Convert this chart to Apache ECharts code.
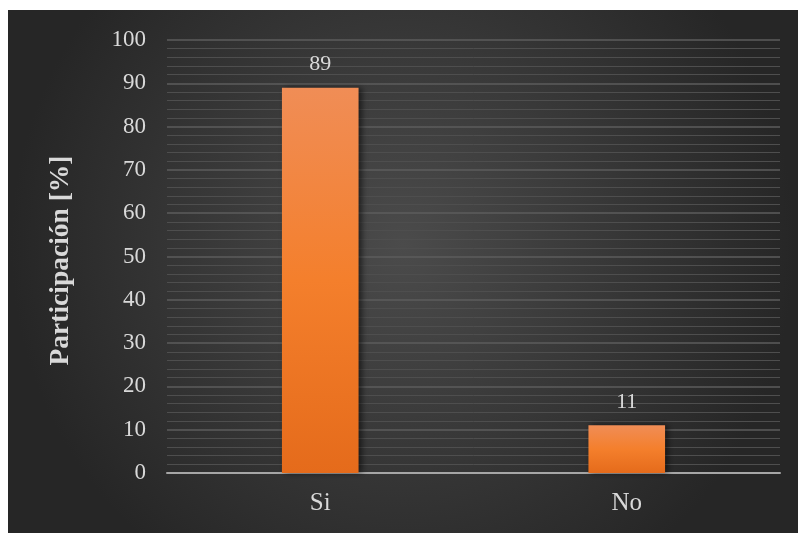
<!DOCTYPE html>
<html>
<head>
<meta charset="utf-8">
<script src="https://cdn.jsdelivr.net/npm/echarts@6/dist/echarts.min.js"></script>
<style>html,body{margin:0;padding:0;background:#fff;}#c{width:798px;height:533px;}</style>
</head>
<body>
<div id="c"></div>
<script>
const categories = ['Si', 'No'];
const values = [89, 11];
const yTicks = [0, 10, 20, 30, 40, 50, 60, 70, 80, 90, 100];

const chart = echarts.init(document.getElementById('c'), null, {renderer: 'canvas'});
const font = '"Liberation Serif", "Times New Roman", serif';
const txt = '#d9d9d9';
chart.setOption({
  backgroundColor: '#ffffff',
  animation: false,
  graphic: [{
    type: 'rect', z: -10, silent: true,
    shape: {x: 8, y: 10, width: 790, height: 523},
    style: {
      fill: new echarts.graphic.RadialGradient(0.5, 0.45, 0.75, [
        {offset: 0, color: '#4b4b4b'},
        {offset: 1, color: '#262626'}
      ])
    }
  }],
  grid: {left: 167, right: 18, top: 40, bottom: 60, containLabel: false},
  xAxis: {
    type: 'category',
    data: categories,
    axisLine: {show: true, lineStyle: {color: '#a6a6a6', width: 2}},
    axisTick: {show: false},
    axisLabel: {color: txt, fontFamily: font, fontSize: 25, margin: 18}
  },
  yAxis: {
    type: 'value',
    min: yTicks[0], max: yTicks[yTicks.length - 1], interval: 10,
    name: 'Participación [%]',
    nameLocation: 'middle',
    nameGap: 92,
    nameTextStyle: {color: txt, fontFamily: font, fontSize: 27.5, fontWeight: 'bold', padding: [0, 8, 0, 0]},
    axisLine: {show: false},
    axisTick: {show: false},
    axisLabel: {color: txt, fontFamily: font, fontSize: 23, margin: 21},
    splitLine: {show: true, lineStyle: {color: '#5c5c5c', width: 1.5}},
    minorTick: {show: false, splitNumber: 5},
    minorSplitLine: {show: true, lineStyle: {color: '#4e4e4e', width: 1}}
  },
  series: [{
    type: 'bar',
    data: values,
    barWidth: '25%',
    itemStyle: {
      color: new echarts.graphic.LinearGradient(0, 0, 0, 1, [
        {offset: 0, color: '#f08d56'},
        {offset: 0.5, color: '#f47f2c'},
        {offset: 1, color: '#e56b1b'}
      ]),
      shadowColor: 'rgba(0,0,0,0.55)',
      shadowBlur: 6,
      shadowOffsetX: 3,
      shadowOffsetY: 0
    },
    label: {show: true, position: 'top', distance: 12, color: txt, fontFamily: font, fontSize: 22}
  }]
});
</script>
</body>
</html>
